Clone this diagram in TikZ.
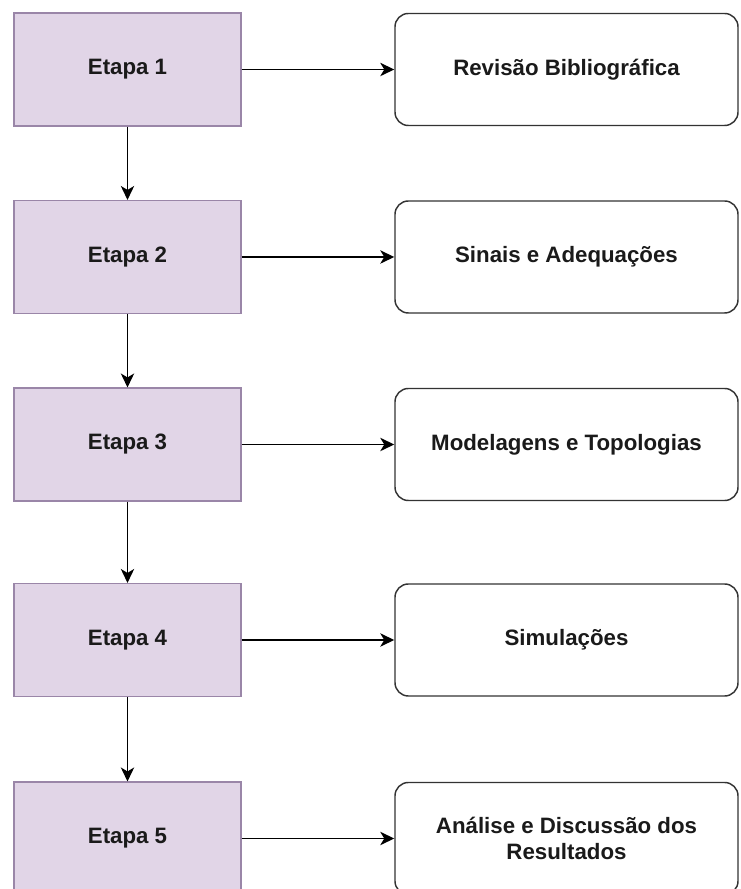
\documentclass[tikz,border=0pt]{standalone}
\usepackage{fontspec}
\setmainfont{Liberation Sans}
\usepackage{xcolor}
\usetikzlibrary{positioning, arrows.meta}

\definecolor{etapafill}{HTML}{E1D5E7}
\definecolor{etapadraw}{HTML}{9A86A8}
\definecolor{temadraw}{HTML}{333333}
\definecolor{textocor}{HTML}{1A1A1A}

\tikzset{
  etapabox/.style={draw=etapadraw, fill=etapafill, line width=0.8pt,
    minimum width=170.25pt, minimum height=84.75pt, inner sep=0pt,
    text=textocor, font=\fontsize{16.7}{20}\selectfont\bfseries},
  temabox/.style={draw=temadraw, fill=white, line width=1.1pt, rounded corners=10pt,
    minimum width=257.25pt, minimum height=84pt, inner sep=0pt, align=center,
    text=textocor, font=\fontsize{16.7}{20}\selectfont\bfseries},
  seta/.style={-{Stealth[length=10.5pt, width=10pt, inset=3pt]}, line width=1.2pt, draw=black}
}

\begin{document}
\begin{tikzpicture}[x=0.75pt, y=0.75pt]

  \useasboundingbox (0,0) rectangle (741,889);

  % ==========================================
  % Etapas (coluna da esquerda)
  % ==========================================
  \node[etapabox] (etapa1) at (127.5, 819.5) {Etapa 1};
  \node[etapabox] (etapa2) at (127.5, 632) {Etapa 2};
  \node[etapabox] (etapa3) at (127.5, 444.5) {Etapa 3};
  \node[etapabox] (etapa4) at (127.5, 249) {Etapa 4};
  \node[etapabox] (etapa5) at (127.5, 50.5) {Etapa 5};

  % ==========================================
  % Temas (coluna da direita)
  % ==========================================
  \node[temabox] (tema1) at (566.5, 819.5) {Revisão Bibliográfica};
  \node[temabox] (tema2) at (566.5, 632) {Sinais e Adequações};
  \node[temabox] (tema3) at (566.5, 444.5) {Modelagens e Topologias};
  \node[temabox] (tema4) at (566.5, 249) {Simulações};
  \node[temabox] (tema5) at (566.5, 50.5) {Análise e Discussão dos\\Resultados};

  % Setas verticais
  \draw[seta] (etapa1) -- (etapa2);
  \draw[seta] (etapa2) -- (etapa3);
  \draw[seta] (etapa3) -- (etapa4);
  \draw[seta] (etapa4) -- (etapa5);

  % Setas horizontais
  \draw[seta] (etapa1) -- (tema1);
  \draw[seta] (etapa2) -- (tema2);
  \draw[seta] (etapa3) -- (tema3);
  \draw[seta] (etapa4) -- (tema4);
  \draw[seta] (etapa5) -- (tema5);

\end{tikzpicture}
\end{document}
